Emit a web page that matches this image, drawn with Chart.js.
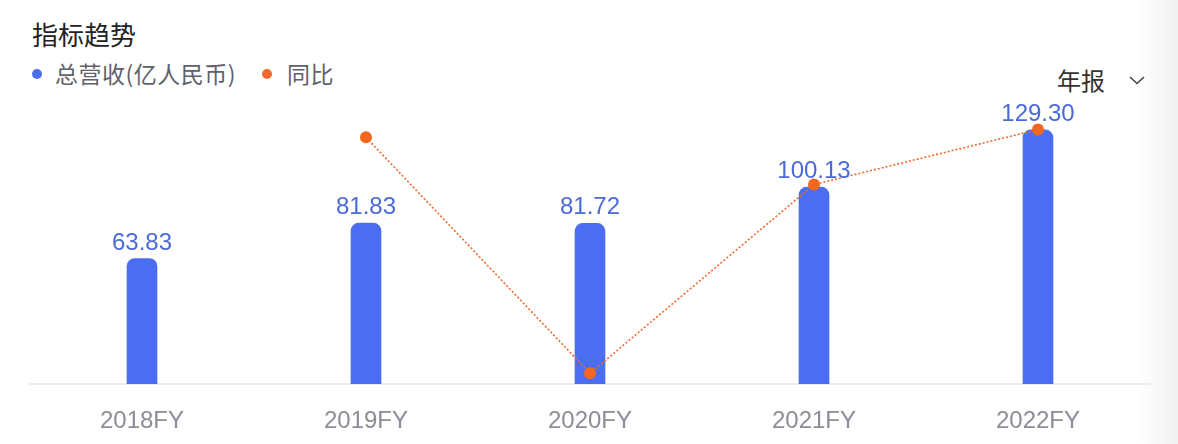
<!DOCTYPE html>
<html>
<head>
<meta charset="utf-8">
<script src="https://cdn.jsdelivr.net/npm/chart.js@4.4.1/dist/chart.umd.min.js"></script>
<style>
  html, body { margin: 0; padding: 0; }
  body {
    width: 1178px; height: 444px; overflow: hidden; position: relative;
    background: linear-gradient(to right, #ffffff 1138px, #f1f1f1 1178px);
    font-family: "Noto Sans CJK SC", "Liberation Sans", sans-serif;
  }
  .title { position: absolute; left: 32px; top: 21px; font-size: 26px; line-height: 26px; color: #222; font-weight: 400; }
  .legend { position: absolute; top: 62px; left: 0; font-size: 23px; line-height: 23px; color: #5f6169; letter-spacing: 0.5px; }
  .legend span.item { position: absolute; white-space: nowrap; }
  .legend i { position: absolute; width: 10px; height: 10px; border-radius: 50%; top: 7px; }
  .period { position: absolute; left: 1057px; top: 68px; font-size: 24px; line-height: 24px; color: #333; }
  .chev { position: absolute; left: 1128px; top: 74px; }
  canvas { position: absolute; left: 0; top: 0; }
</style>
</head>
<body>
<div class="title">指标趋势</div>
<div class="legend" id="legend"></div>
<div class="period">年报</div>
<svg class="chev" width="18" height="12" viewBox="0 0 18 12"><polyline points="2,3 9,9.5 16,3" fill="none" stroke="#444" stroke-width="1.6"/></svg>
<canvas id="chart" width="1178" height="444"></canvas>
<script>
const categories = ['2018FY', '2019FY', '2020FY', '2021FY', '2022FY'];
const revenue = [63.83, 81.83, 81.72, 100.13, 129.30];   // 总营收(亿人民币)
const yoy = [null, 28.20, -0.13, 22.53, 29.13];            // 同比 %
const seriesNames = ['总营收(亿人民币)', '同比'];

const barColor = '#4b6ef0';
const lineColor = '#f0692a';

// legend rendered in html
const legendEl = document.getElementById('legend');
[[seriesNames[0], barColor, 32, 55], [seriesNames[1], lineColor, 262, 287]].forEach(([name, color, dotX, textX]) => {
    const dot = document.createElement('i');
    dot.style.left = dotX + 'px';
    dot.style.background = color;
    legendEl.appendChild(dot);
    const label = document.createElement('span');
    label.className = 'item';
    label.style.left = textX + 'px';
    label.textContent = name;
    legendEl.appendChild(label);
});

const barValueLabels = {
    id: 'barValueLabels',
    afterDatasetsDraw(chart) {
        const ctx = chart.ctx;
        const meta = chart.getDatasetMeta(1);
        ctx.save();
        ctx.font = '24px "Liberation Sans", Arial, sans-serif';
        ctx.fillStyle = '#4a6ad9';
        ctx.textAlign = 'center';
        ctx.textBaseline = 'alphabetic';
        meta.data.forEach((bar, i) => {
            ctx.fillText(revenue[i].toFixed(2), bar.x, bar.y - 9);
        });
        ctx.restore();
    },
};

new Chart(document.getElementById('chart'), {
    data: {
        labels: categories,
        datasets: [
            {
                type: 'line',
                label: seriesNames[1],
                data: yoy,
                yAxisID: 'y1',
                borderColor: lineColor,
                borderWidth: 1.6,
                borderDash: [2, 2],
                pointRadius: 6,
                pointBackgroundColor: '#f5661f',
                pointBorderWidth: 0,
                spanGaps: false,
                tension: 0,
                order: 0,
            },
            {
                type: 'bar',
                label: seriesNames[0],
                data: revenue,
                yAxisID: 'y',
                backgroundColor: barColor,
                barThickness: 30,
                borderRadius: { topLeft: 8, topRight: 8 },
                borderSkipped: 'bottom',
                order: 1,
            },
        ],
    },
    options: {
        responsive: false,
        animation: false,
        layout: { padding: { top: 100, left: 30, right: 28, bottom: 10 } },
        plugins: {
            legend: { display: false },
            tooltip: { enabled: false },
        },
        scales: {
            x: {
                grid: { display: false, drawTicks: false },
                border: { display: true, color: '#ececec', width: 2 },
                ticks: {
                    color: '#8b8d97',
                    padding: 23,
                    font: { size: 24, family: '"Liberation Sans", Arial, sans-serif' },
                },
                afterFit(scale) { scale.height = 50; },
            },
            y: { display: false, min: 0, max: 144.5 },
            y1: { display: false, min: -1.41, max: 32.68 },
        },
    },
    plugins: [barValueLabels],
});
</script>
</body>
</html>
